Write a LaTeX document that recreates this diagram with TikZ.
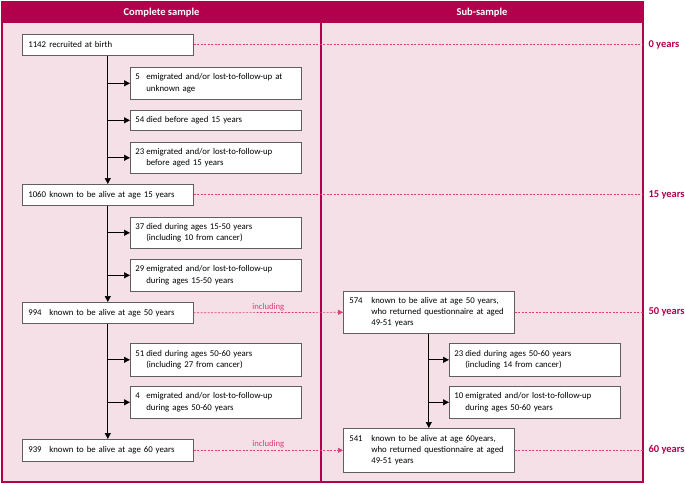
\documentclass[tikz,border=0pt]{standalone}
\usepackage{fontspec}
\setmainfont{Carlito}
\usetikzlibrary{arrows.meta}
\definecolor{hdr}{RGB}{178,0,76}
\definecolor{bgpink}{RGB}{245,224,231}
\definecolor{dashpink}{RGB}{222,60,120}
\definecolor{boxgray}{RGB}{95,95,95}
\newcommand{\cnt}[3]{\begin{tabular}{@{}p{#1}@{}l@{}}#2 & #3\end{tabular}}

\begin{document}
\begin{tikzpicture}[x=1pt,y=-1pt,
  box/.style={draw=boxgray, fill=white, anchor=north west, line width=0.6pt,
    align=left, inner ysep=0pt, font=\fontsize{8.8}{11.3}\selectfont},
  mainbox/.style={box, text width=159pt, inner xsep=6pt},
  sidebox/.style={box, text width=161pt, inner xsep=5pt},
  arr/.style={line width=0.7pt, -{Triangle[length=6pt,width=6pt]}},
  dline/.style={dashpink, line width=0.7pt, dash pattern=on 2pt off 1.5pt},
  darr/.style={dline, -{Triangle[length=5pt,width=5pt]}},
  hdrtext/.style={text=white, font=\fontsize{10.5}{12}\selectfont\bfseries},
  yrlabel/.style={anchor=west, text=hdr, font=\fontsize{10.5}{12}\selectfont\bfseries},
  inclabel/.style={above, text=dashpink, font=\fontsize{8.7}{10}\selectfont, inner sep=1.5pt}]
  \useasboundingbox (0,0) rectangle (685,483);
  \fill[bgpink] (2,23) rectangle (643,482);
  \fill[hdr] (2,2) rectangle (643,23);
  \draw[hdr, line width=1.5pt] (2,2) rectangle (643,482);
  \draw[hdr, line width=1.2pt] (321,23) -- (321,482);
  \node[hdrtext] (hc) at (161.5,12.5) {Complete sample};
  \node[hdrtext] (hs) at (482,12.5) {Sub-sample};
  \coordinate (rb) at (643,0);

  \node[mainbox, minimum height=21pt] (b0) at (22,34) {\cnt{21pt}{1142}{recruited at birth}};
  \node[sidebox, minimum height=32pt] (s1) at (130,67) {\cnt{11pt}{5}{emigrated and/or lost-to-follow-up at\\ & unknown age}};
  \node[sidebox, minimum height=20pt] (s2) at (130,110) {\cnt{11pt}{54}{died before aged 15 years}};
  \node[sidebox, minimum height=31pt] (s3) at (130,142) {\cnt{11pt}{23}{emigrated and/or lost-to-follow-up\\ & before aged 15 years}};
  \node[mainbox, minimum height=21pt] (b15) at (22,184) {\cnt{21pt}{1060}{known to be alive at age 15 years}};
  \node[sidebox, minimum height=31pt] (s4) at (130,217) {\cnt{11pt}{37}{died during ages 15-50 years\\ & (including 10 from cancer)}};
  \node[sidebox, minimum height=32pt] (s5) at (130,259) {\cnt{11pt}{29}{emigrated and/or lost-to-follow-up\\ & during ages 15-50 years}};
  \node[mainbox, minimum height=21pt] (b50) at (22,302) {\cnt{21pt}{994}{known to be alive at age 50 years}};
  \node[sidebox, minimum height=33pt] (s6) at (130,343) {\cnt{11pt}{51}{died during ages 50-60 years\\ & (including 27 from cancer)}};
  \node[sidebox, minimum height=32pt] (s7) at (130,386) {\cnt{11pt}{4}{emigrated and/or lost-to-follow-up\\ & during ages 50-60 years}};
  \node[mainbox, minimum height=22pt] (b60) at (22,439) {\cnt{21pt}{939}{known to be alive at age 60 years}};

  \node[mainbox, minimum height=42pt] (r50) at (343,291) {\cnt{22pt}{574}{known to be alive at age 50 years,\\ & who returned questionnaire at aged\\ & 49-51 years}};
  \node[sidebox, minimum height=33pt] (r1) at (449,343) {\cnt{11pt}{23}{died during ages 50-60 years\\ & (including 14 from cancer)}};
  \node[sidebox, minimum height=32pt] (r2) at (449,386) {\cnt{11pt}{10}{emigrated and/or lost-to-follow-up\\ & during ages 50-60 years}};
  \node[mainbox, minimum height=44pt] (r60) at (343,428) {\cnt{22pt}{541}{known to be alive at age 60years,\\ & who returned questionnaire at aged\\ & 49-51 years}};

  \draw[arr] (b0.south) -- (b15.north);
  \draw[arr] (b15.south) -- (b50.north);
  \draw[arr] (b50.south) -- (b60.north);
  \draw[arr] (r50.south) -- (r60.north);
  \foreach \s in {s1,s2,s3} \draw[arr] (b0.south |- \s.west) -- (\s.west);
  \foreach \s in {s4,s5} \draw[arr] (b15.south |- \s.west) -- (\s.west);
  \foreach \s in {s6,s7} \draw[arr] (b50.south |- \s.west) -- (\s.west);
  \foreach \s in {r1,r2} \draw[arr] (r50.south |- \s.west) -- (\s.west);

  \draw[dline] (b0.east) -- (b0.east -| rb);
  \draw[dline] (b15.east) -- (b15.east -| rb);
  \draw[darr] (b50.east) -- node[inclabel] {including} (r50.west);
  \draw[dline] (r50.east) -- (r50.east -| rb);
  \draw[darr] (b60.east) -- node[inclabel] {including} (r60.west);
  \draw[dline] (r60.east) -- (r60.east -| rb);

  \node[yrlabel] (y0) at (645,45) {0 years};
  \node[yrlabel] (y15) at (645,194.5) {15 years};
  \node[yrlabel] (y50) at (645,312) {50 years};
  \node[yrlabel] (y60) at (645,450) {60 years};
\end{tikzpicture}
\end{document}
